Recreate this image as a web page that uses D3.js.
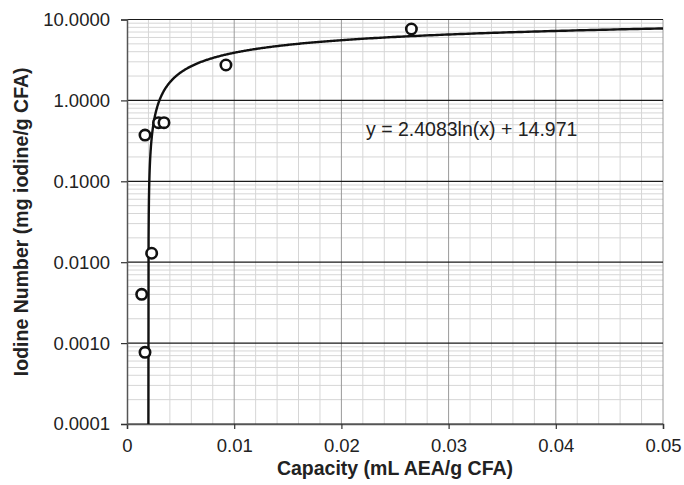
<!DOCTYPE html>
<html>
<head>
<meta charset="utf-8">
<script src="https://cdn.jsdelivr.net/npm/d3@7.9.0/dist/d3.min.js"></script>
<style>
  body { margin: 0; background: #fff; }
  svg { display: block; font-family: "Liberation Sans", Arial, sans-serif; }
</style>
</head>
<body>
<div id="chart"></div>
<script>
// measured points (capacity, iodine number)
const capacity = [0.02653, 0.00923, 0.00294, 0.00345, 0.00168, 0.00230, 0.00137, 0.00168];
const iodine = [7.63, 2.74, 0.530, 0.530, 0.373, 0.0129, 0.00401, 0.000769];

// trendline y = a ln(x) + b, as printed on the chart
const trendA = 2.4083;
const trendB = 14.971;
const trendLabel = 'y = 2.4083ln(x) + 14.971';

const xTicks = [0, 0.01, 0.02, 0.03, 0.04, 0.05];
const yTicks = [0.0001, 0.001, 0.01, 0.1, 1, 10];

const width = 684;
const height = 485;
const margin = { top: 19.5, right: 21, bottom: 61, left: 127 };

const svg = d3
  .select('#chart')
  .append('svg')
  .attr('width', width)
  .attr('height', height);

const x = d3
  .scaleLinear()
  .domain([0, 0.05])
  .range([margin.left, width - margin.right]);

const y = d3
  .scaleLog()
  .domain([0.0001, 10])
  .range([height - margin.bottom, margin.top]);

const [x0, x1] = x.range();
const [yBottom, yTop] = y.range();

// minor grid
const minorX = d3.range(0, 0.0501, 0.002).filter((d) => Math.abs(d / 0.01 - Math.round(d / 0.01)) > 1e-6);
const minorY = [];
yTicks.slice(0, -1).forEach((d) => {
  for (let k = 2; k <= 9; k++) minorY.push(d * k);
});

const grid = svg.append('g');
grid
  .selectAll('.mx')
  .data(minorX)
  .join('line')
  .attr('x1', (d) => x(d))
  .attr('x2', (d) => x(d))
  .attr('y1', yTop)
  .attr('y2', yBottom)
  .attr('stroke', '#d6d6d6')
  .attr('stroke-width', 1);

grid
  .selectAll('.my')
  .data(minorY)
  .join('line')
  .attr('x1', x0)
  .attr('x2', x1)
  .attr('y1', (d) => y(d))
  .attr('y2', (d) => y(d))
  .attr('stroke', '#d6d6d6')
  .attr('stroke-width', 1);

// major vertical lines
grid
  .selectAll('.vx')
  .data(xTicks.slice(1))
  .join('line')
  .attr('x1', (d) => x(d))
  .attr('x2', (d) => x(d))
  .attr('y1', yTop)
  .attr('y2', yBottom)
  .attr('stroke', '#9a9a9a')
  .attr('stroke-width', 1);

// major horizontal lines
grid
  .selectAll('.hy')
  .data(yTicks)
  .join('line')
  .attr('x1', x0)
  .attr('x2', x1)
  .attr('y1', (d) => y(d))
  .attr('y2', (d) => y(d))
  .attr('stroke', '#1a1a1a')
  .attr('stroke-width', 1.2);

// axes
const xAxis = d3
  .axisBottom(x)
  .tickValues(xTicks)
  .tickSize(5)
  .tickPadding(10)
  .tickFormat((d) => (d === 0 ? '0' : d3.format('.2f')(d)));

const yAxis = d3
  .axisLeft(y)
  .tickValues(yTicks)
  .tickSize(6)
  .tickPadding(11)
  .tickFormat(d3.format('.4f'));

const gx = svg
  .append('g')
  .attr('transform', `translate(0,${yBottom})`)
  .call(xAxis);

const gy = svg
  .append('g')
  .attr('transform', `translate(${x0},0)`)
  .call(yAxis);

[gx, gy].forEach((g) => {
  g.select('.domain').attr('stroke', '#555').attr('stroke-width', 1.5);
  g.selectAll('.tick line').attr('stroke', '#333').attr('stroke-width', 1.2);
  g.selectAll('.tick text').attr('fill', '#222').style('font-size', '18.5px');
});

// trendline, from where it enters the bottom of the plot
const xStartVal = Math.exp((0.0001 - trendB) / trendA);
const curveX = [];
for (let i = 0; i <= 400; i++) {
  const t = i / 400;
  curveX.push(xStartVal * Math.pow(0.05 / xStartVal, t));
}
const curveData = curveX
  .map((cx) => [cx, trendA * Math.log(cx) + trendB])
  .filter((d) => d[1] >= 0.0001);
curveData.unshift([xStartVal, 0.0001]);

svg
  .append('path')
  .datum(curveData)
  .attr('fill', 'none')
  .attr('stroke', '#111')
  .attr('stroke-width', 2.4)
  .attr('d', d3.line().x((d) => x(d[0])).y((d) => y(d[1])));

// points
const points = capacity.map((c, i) => ({ c, v: iodine[i] }));
svg
  .append('g')
  .selectAll('circle')
  .data(points)
  .join('circle')
  .attr('cx', (d) => x(d.c))
  .attr('cy', (d) => y(d.v))
  .attr('r', 5.2)
  .attr('fill', '#fff')
  .attr('stroke', '#111')
  .attr('stroke-width', 2.6);

// equation label
svg
  .append('text')
  .attr('x', 366)
  .attr('y', 136)
  .attr('fill', '#222')
  .style('font-size', '19.5px')
  .text(trendLabel);

// axis titles
svg
  .append('text')
  .attr('x', (x0 + x1) / 2)
  .attr('y', 475)
  .attr('text-anchor', 'middle')
  .attr('fill', '#222')
  .style('font-size', '19.5px')
  .style('font-weight', 'bold')
  .text('Capacity (mL AEA/g CFA)');

svg
  .append('text')
  .attr('transform', `translate(28,${(yTop + yBottom) / 2}) rotate(-90)`)
  .attr('text-anchor', 'middle')
  .attr('fill', '#222')
  .style('font-size', '19.5px')
  .style('font-weight', 'bold')
  .text('Iodine Number (mg iodine/g CFA)');
</script>
</body>
</html>
